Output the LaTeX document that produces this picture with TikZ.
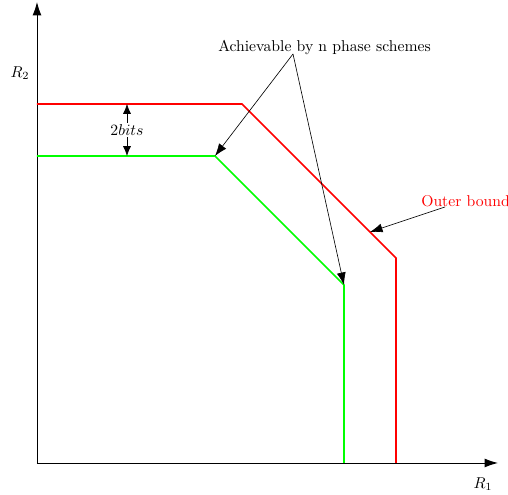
\documentclass[tikz,border=0pt]{standalone}
\usepackage{amsmath,amssymb}
\usetikzlibrary{arrows.meta,positioning,calc}
\usepackage{xcolor}

\begin{document}
\begin{tikzpicture}[x=0.224cm, y=0.224cm,
  axis/.style={semithick, -{Latex[length=3mm,width=2mm]}},
  outer/.style={red, line width=1.1pt},
  inner/.style={green, line width=1.1pt},
  pointer/.style={-{Latex[length=2.8mm,width=2mm]}}
]
  \useasboundingbox (-3.7,-3.2) rectangle (47.1,46.3);

  % axes
  \coordinate (O) at (0,0);
  \coordinate (xend) at (46.1,0);
  \coordinate (yend) at (0,46.1);
  \draw[axis] (O) -- (xend);
  \draw[axis] (O) -- (yend);
  \node (r1) at (44.6,-2.1) {$R_1$};
  \node (r2) at (-1.7,39) {$R_2$};

  % outer bound
  \coordinate (oa) at (0,35.9);
  \coordinate (ob) at (20.5,35.9);
  \coordinate (oc) at (35.9,20.5);
  \coordinate (od) at (35.9,0);
  \draw[outer] (oa) -- (ob) -- (oc) -- (od);

  % achievable region
  \coordinate (ia) at (0,30.7);
  \coordinate (ib) at (17.8,30.7);
  \coordinate (ic) at (30.7,17.8);
  \coordinate (id) at (30.7,0);
  \draw[inner] (ia) -- (ib) -- (ic) -- (id);

  % gap
  \coordinate (gt) at (9,35.9);
  \coordinate (gb) at (9,30.7);
  \draw[{Latex[length=2.2mm,width=1.8mm]}-{Latex[length=2.2mm,width=1.8mm]}]
    (gt) -- node[fill=white, inner sep=1pt] (gap) {$2bits$} (gb);

  % labels
  \node (ach) at (28.75,41.5) {Achievable by n phase schemes};
  \coordinate (achp) at (25.6,40.9);
  \draw[pointer] (achp) -- (ib);
  \draw[pointer] (achp) -- (ic);

  \node[red, anchor=west, inner sep=0pt] (ob-label) at (38.4,26.2) {Outer bound};
  \coordinate (obp) at (40.8,25.6);
  \coordinate (obt) at (33.3,23.1);
  \draw[pointer] (obp) -- (obt);
\end{tikzpicture}
\end{document}
